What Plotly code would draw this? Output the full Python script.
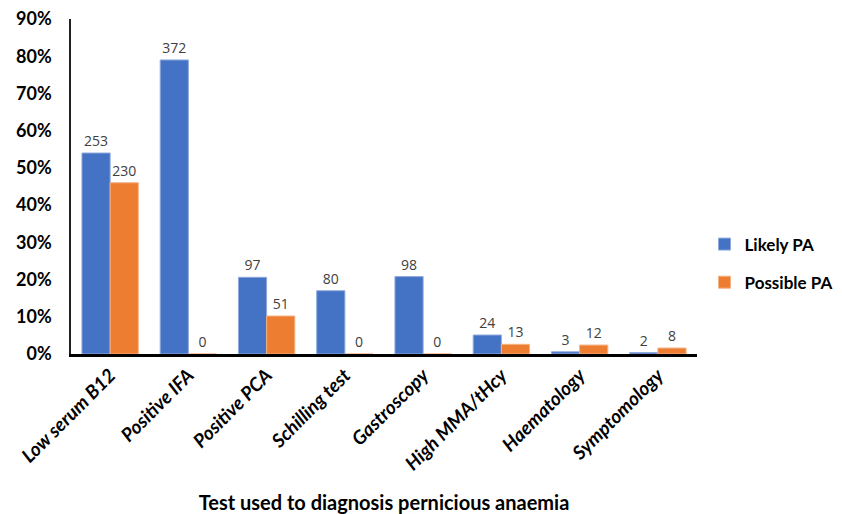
import plotly.graph_objects as go

categories = ["Low serum B12", "Positive IFA", "Positive PCA", "Schilling test",
              "Gastroscopy", "High MMA/tHcy", "Haematology", "Symptomology"]
likely_pct = [54.0, 79.0, 20.6, 17.0, 20.8, 5.1, 0.6, 0.4]
possible_pct = [46.0, 0.0, 10.2, 0.0, 0.0, 2.6, 2.4, 1.6]
likely_n = [253, 372, 97, 80, 98, 24, 3, 2]
possible_n = [230, 0, 51, 0, 0, 13, 12, 8]
y_ticks = [0, 10, 20, 30, 40, 50, 60, 70, 80, 90]
y_tick_labels = [f"{v}%" for v in y_ticks]

BASE = "Lato, 'Open Sans', sans-serif"
label_font = dict(family="'Open Sans', sans-serif", size=14, color="#404040")

fig = go.Figure()
fig.add_trace(go.Bar(
    x=categories, y=likely_pct, name="Likely PA", legendgroup="a",
    marker=dict(color="#4472C4", line=dict(color="#8FAADC", width=1)),
    text=[str(v) for v in likely_n], textposition="outside",
    textfont=label_font, cliponaxis=False,
))
fig.add_trace(go.Bar(
    x=categories, y=possible_pct, name="Possible PA", legendgroup="b",
    marker=dict(color="#ED7D31", line=dict(color="#F4B183", width=1)),
    text=[str(v) for v in possible_n], textposition="outside",
    textfont=label_font, cliponaxis=False,
))

fig.update_layout(
    width=842, height=514,
    margin=dict(l=71, r=145, t=19, b=160, autoexpand=False),
    paper_bgcolor="white", plot_bgcolor="white",
    barmode="group", bargap=0.28, bargroupgap=0,
    font=dict(family=BASE, color="black"),
    legend=dict(
        x=1.012, y=0.27, xanchor="left", yanchor="middle",
        font=dict(family=BASE, size=17, color="black", weight="bold"),
        traceorder="grouped", tracegroupgap=13,
        itemwidth=30,
    ),
    showlegend=True,
)
fig.update_yaxes(
    range=[0, 90], tickvals=y_ticks, ticktext=y_tick_labels,
    showgrid=False, zeroline=False, automargin=False,
    showline=True, linecolor="#222222", linewidth=1.5,
    ticks="", ticklabelstandoff=14, ticklabeloverflow="allow",
    tickfont=dict(family=BASE, size=18, color="black", weight="bold"),
)
fig.update_xaxes(
    showgrid=False, showline=True, linecolor="black", linewidth=2.5,
    ticks="", tickangle=-45, automargin=False,
    tickfont=dict(family=BASE, size=19, color="black", weight="bold", style="italic"),
    title=dict(text="Test used to diagnosis pernicious anaemia",
               font=dict(family=BASE, size=20, color="black", weight="bold"),
               standoff=34),
)

fig.write_html("out.html", config={"displayModeBar": False},
               post_script="document.body.style.margin='0';")
